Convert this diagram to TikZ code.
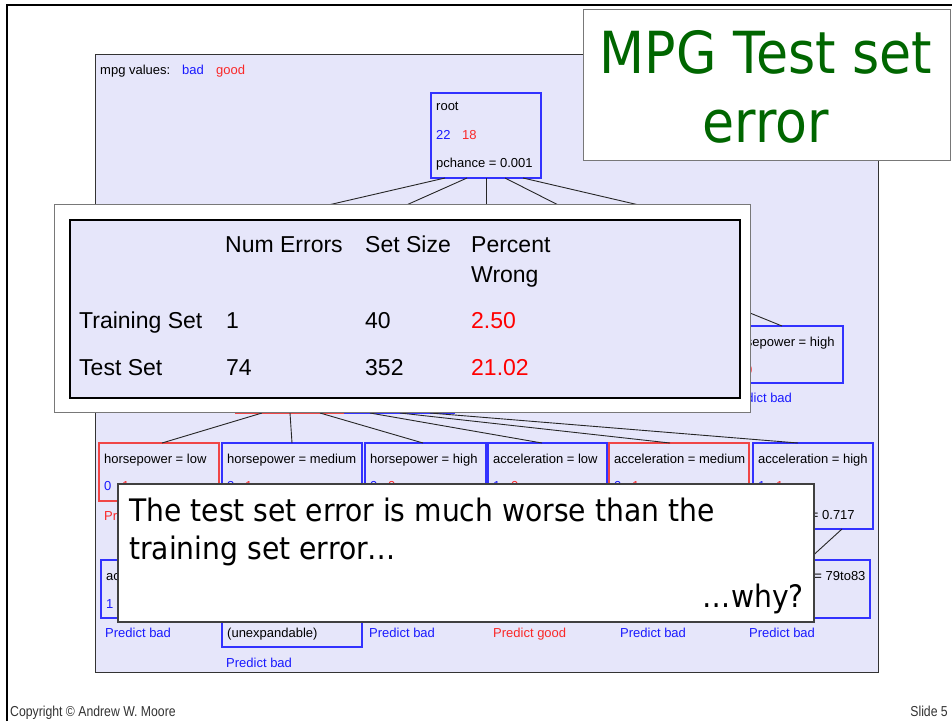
\documentclass[tikz,border=0pt]{standalone}
\usepackage{fontspec}
\setmainfont{Liberation Sans}
\newfontfamily\tahomaf[FakeStretch=0.9]{DejaVu Sans}
\newfontfamily\tahomacf[FakeStretch=0.91]{DejaVu Sans}
\newfontfamily\narrowf[FakeStretch=0.85]{Liberation Sans}
\usetikzlibrary{calc}
\definecolor{panelbg}{RGB}{230,230,250}
\definecolor{tblue}{RGB}{25,25,255}
\definecolor{tred}{RGB}{250,40,40}
\definecolor{nblue}{RGB}{50,50,255}
\definecolor{nred}{RGB}{240,70,70}
\definecolor{titlegreen}{RGB}{0,102,0}
\definecolor{boxgray}{RGB}{120,120,120}
\tikzset{
  treebox/.style={draw=nblue, line width=1.3pt, fill=panelbg, anchor=north west, inner sep=0pt, outer sep=0pt},
  redbox/.style={treebox, draw=nred},
  edge/.style={draw=black!85, line width=0.9pt},
  tt/.style={font=\fontsize{13}{15}\selectfont, inner sep=0pt, anchor=base west, text=black},
  tb/.style={tt, text=tblue},
  tr/.style={tt, text=tred},
  tab/.style={font=\fontsize{23}{26}\selectfont, inner sep=0pt, anchor=base west, text=black},
  tabred/.style={tab, text=red},
  call/.style={font=\tahomacf\fontsize{31}{36}\selectfont, inner sep=0pt, anchor=base west, text=black},
  ttl/.style={font=\tahomaf\fontsize{58}{64}\selectfont, inner sep=0pt, anchor=base, text=titlegreen},
  foot/.style={font=\narrowf\fontsize{14.4}{16}\selectfont, inner sep=0pt, text=black!80}
}
\begin{document}
\begin{tikzpicture}[x=1pt,y=-1pt]
\useasboundingbox (0,0) rectangle (952,721);
\fill[white] (0,0) rectangle (952,721);

% tree panel
\node[draw=black!80, line width=1pt, fill=panelbg, anchor=north west, inner sep=0pt, outer sep=0pt,
      minimum width=783pt, minimum height=618pt] (panel) at (95,54) {};
\node[tt] (mpg) at (100,74) {mpg values:};
\node[tb] (mpgbad) at (182,74) {bad};
\node[tr] (mpggood) at (216,74) {good};

% hidden coordinates of level-2 nodes (under the table)
\coordinate (l2a) at (285,215);
\coordinate (l2b) at (384,215);
\coordinate (l2c) at (486,215);
\coordinate (l2d) at (578,215);
\coordinate (l2e) at (682,215);
\coordinate (l2f) at (718,300);

% nodes
\node[treebox, minimum width=110pt, minimum height=85pt] (root) at (431,93) {};
\node[redbox, minimum width=109pt, minimum height=53pt] (p3r) at (236,360) {};
\node[treebox, minimum width=109pt, minimum height=53pt] (p3b) at (345,360) {};
\node[treebox, minimum width=121pt, minimum height=57pt] (hph) at (722,326) {};

% root edges
\draw[edge] ($(root.south west)+(14,0)$) -- (l2a);
\draw[edge] ($(root.south west)+(36,0)$) -- (l2b);
\draw[edge] ($(root.south west)+(55,0)$) -- (l2c);
\draw[edge] ($(root.south west)+(74,0)$) -- (l2d);
\draw[edge] ($(root.south west)+(92,0)$) -- (l2e);
\draw[edge] (l2f) -- ($(hph.north west)+(60,0)$);

% row A
\node[redbox, minimum width=120pt, minimum height=58pt] (hpl) at (99,443) {};
\node[treebox, minimum width=140pt, minimum height=86pt] (hpm) at (222,443) {};
\node[treebox, minimum width=121pt, minimum height=58pt] (hphi) at (365,443) {};
\node[treebox, minimum width=119pt, minimum height=58pt] (acl) at (488,443) {};
\node[redbox, minimum width=140pt, minimum height=58pt] (acm) at (609,443) {};
\node[treebox, minimum width=120pt, minimum height=86pt] (ach) at (753,443) {};

% row B
\node[treebox, minimum width=119pt, minimum height=58pt] (b1) at (101,560) {};
\node[treebox, minimum width=140pt, minimum height=87pt] (b2) at (222,560) {};
\node[treebox, minimum width=121pt, minimum height=58pt] (b3) at (365,560) {};
\node[redbox, minimum width=119pt, minimum height=58pt] (b4) at (489,560) {};
\node[treebox, minimum width=121pt, minimum height=58pt] (b5) at (616,560) {};
\node[treebox, minimum width=125pt, minimum height=58pt] (b6) at (745,560) {};

% edges to row A
\draw[edge] ($(p3r.south west)+(26,0)$) -- ($(hpl.north west)+(63,0)$);
\draw[edge] ($(p3r.south west)+(54,0)$) -- ($(hpm.north west)+(70,0)$);
\draw[edge] ($(p3r.south west)+(84,0)$) -- ($(hphi.north west)+(58,0)$);
\draw[edge] ($(p3b.south west)+(25,0)$) -- ($(acl.north west)+(54,0)$);
\draw[edge] ($(p3b.south west)+(55,0)$) -- ($(acm.north west)+(61,0)$);
\draw[edge] ($(p3b.south west)+(85,0)$) -- ($(ach.north west)+(45,0)$);
\draw[edge] ($(hpm.south west)+(70,0)$) -- ($(b2.north west)+(70,0)$);
\draw[edge] ($(ach.south west)+(89,0)$) -- ($(b6.north west)+(63,0)$);

% root text
\node[tt] (rt1) at (436,110) {root};
\node[tb] (rt2) at (436,139) {22};
\node[tr] (rt3) at (462,139) {18};
\node[tt] (rt4) at (436,167) {pchance = 0.001};

% upper right node text
\node[tt] (h1) at (727,346) {horsepower = high};
\node[tb] (h2) at (727,374) {1};
\node[tr] (h3) at (745,374) {0};
\node[tb] (h4) at (726,402) {Predict bad};

% row A text
\node[tt] (a1) at (104,463) {horsepower = low};
\node[tb] (a1b) at (104,490) {0};
\node[tr] (a1r) at (122,490) {1};
\node[tr] (a1p) at (104,520) {Predict good};
\node[tt] (a2) at (227,463) {horsepower = medium};
\node[tb] (a2b) at (227,490) {2};
\node[tr] (a2r) at (245,490) {1};
\node[tt] (a3) at (370,463) {horsepower = high};
\node[tb] (a3b) at (370,490) {0};
\node[tr] (a3r) at (388,490) {0};
\node[tt] (a4) at (493,463) {acceleration = low};
\node[tb] (a4b) at (493,490) {1};
\node[tr] (a4r) at (511,490) {0};
\node[tt] (a5) at (614,463) {acceleration = medium};
\node[tb] (a5b) at (614,490) {0};
\node[tr] (a5r) at (632,490) {1};
\node[tt] (a6) at (758,463) {acceleration = high};
\node[tb] (a6b) at (758,490) {1};
\node[tr] (a6r) at (776,490) {1};
\node[tt] (a6p) at (758,519) {pchance = 0.717};

% row B text
\node[tt] (c1) at (106,580) {acceleration = low};
\node[tb] (c1b) at (106,608) {1};
\node[tb] (c1p) at (105,637) {Predict bad};
\node[tt] (c2) at (227,637) {(unexpandable)};
\node[tb] (c2p) at (226,667) {Predict bad};
\node[tb] (c3p) at (369,637) {Predict bad};
\node[tr] (c4p) at (493,637) {Predict good};
\node[tb] (c5p) at (620,637) {Predict bad};
\node[tt] (c6) at (750,580) {modelyear = 79to83};
\node[tb] (c6p) at (749,637) {Predict bad};

% table
\node[draw=boxgray, line width=1pt, fill=white, anchor=north west, inner sep=0pt, outer sep=0pt,
      minimum width=696pt, minimum height=208pt] (tabout) at (54,204) {};
\node[draw=black, line width=1.5pt, fill=panelbg, anchor=north west, inner sep=0pt, outer sep=0pt,
      minimum width=670pt, minimum height=178pt] (tabin) at (70,220) {};
\node[tab] (th1) at (225,252) {Num Errors};
\node[tab] (th2) at (365,252) {Set Size};
\node[tab] (th3) at (471,252) {Percent};
\node[tab] (th4) at (471,282) {Wrong};
\node[tab] (tr1) at (79,328) {Training Set};
\node[tab] (tr2) at (226,328) {1};
\node[tab] (tr3) at (365,328) {40};
\node[tabred] (tr4) at (471,328) {2.50};
\node[tab] (ts1) at (79,375) {Test Set};
\node[tab] (ts2) at (226,375) {74};
\node[tab] (ts3) at (365,375) {352};
\node[tabred] (ts4) at (471,375) {21.02};

% callout
\node[draw=black!75, line width=1.2pt, fill=white, anchor=north west, inner sep=0pt, outer sep=0pt,
      minimum width=696pt, minimum height=138pt] (callout) at (118,484) {};
\node[call] (cl1) at (129,521) {The test set error is much worse than the};
\node[call] (cl2) at (129,559) {training set error…};
\node[call, anchor=base east] (cl3) at (804,607) {…why?};

% title
\node[draw=boxgray, line width=1pt, fill=white, anchor=north west, inner sep=0pt, outer sep=0pt,
      minimum width=367pt, minimum height=151pt] (titlebox) at (583,9) {};
\node[ttl] (tl1) at (766,73) {MPG Test set};
\node[ttl] (tl2) at (766,142) {error};

% slide frame
\draw[line width=2.5pt, black] (7,721) -- (7,5) -- (952,5);

% footer
\node[foot, anchor=base west] (copy) at (10,716) {Copyright © Andrew W. Moore};
\node[foot, anchor=base east] (slide) at (948,716) {Slide 5};
\end{tikzpicture}
\end{document}
